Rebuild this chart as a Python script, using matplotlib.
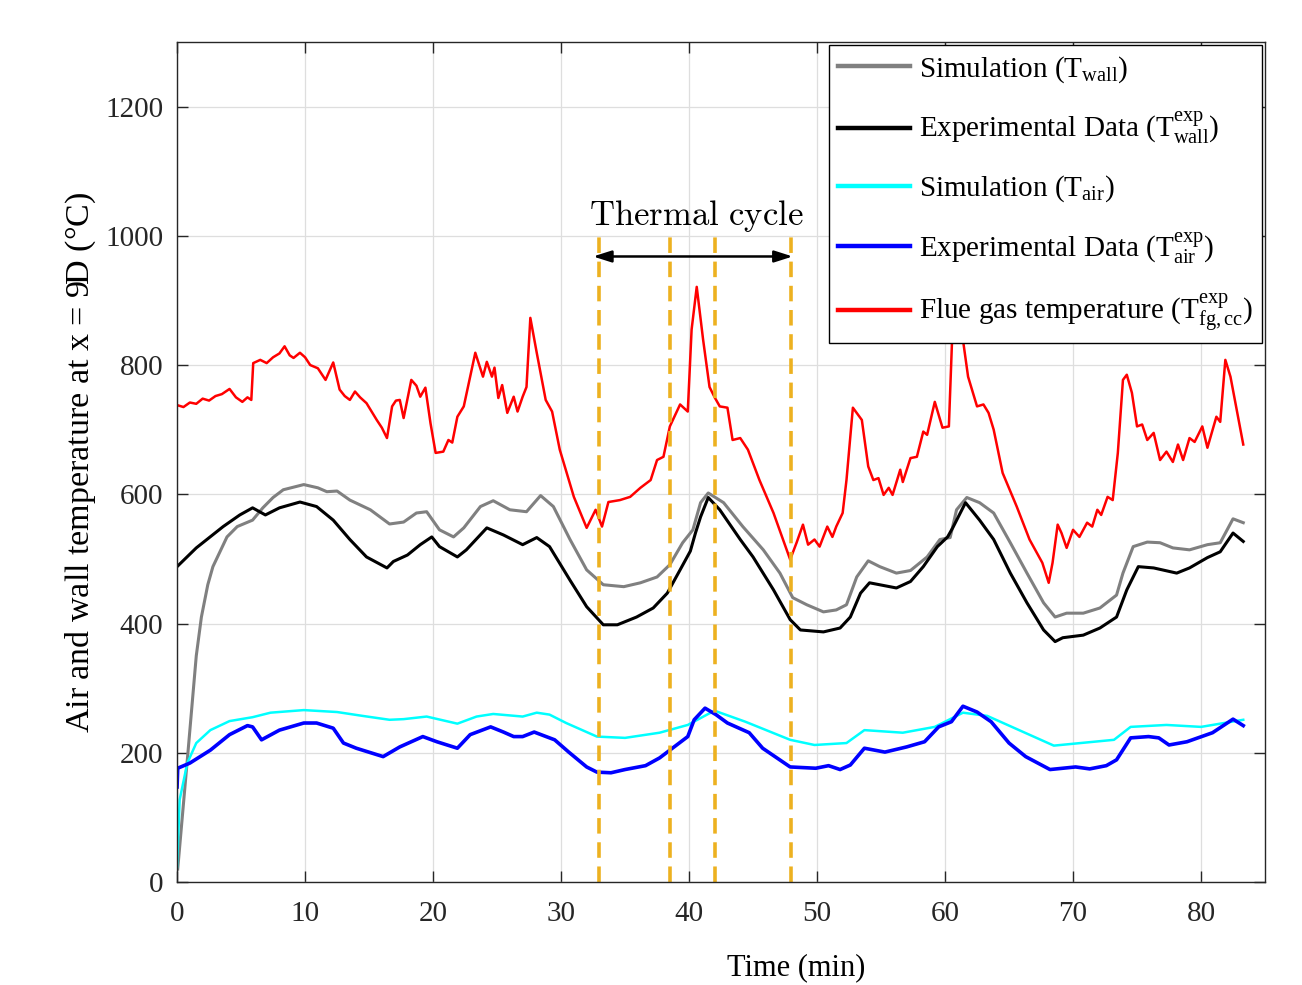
import numpy as np
import matplotlib
matplotlib.use('Agg')
import matplotlib.pyplot as plt

plt.rcParams['font.family'] = ['Liberation Serif', 'DejaVu Serif']
plt.rcParams['mathtext.fontset'] = 'custom'
plt.rcParams['mathtext.rm'] = 'Liberation Serif'
plt.rcParams['mathtext.it'] = 'Liberation Serif:italic'

# --- data ---
t_fg = [0.0, 0.5, 1.0, 1.5, 2.0, 2.5, 3.0, 3.5, 4.1, 4.6, 5.1, 5.5, 5.8, 5.95, 6.5, 7.0, 7.5,
        8.0, 8.4, 8.8, 9.1, 9.6, 10.0, 10.4, 11.0, 11.6, 12.2, 12.7, 13.1, 13.5, 13.9, 14.3,
        14.8, 15.6, 16.0, 16.4, 16.8, 17.1, 17.4, 17.7, 18.3, 18.7, 19.0, 19.4, 19.8, 20.2,
        20.8, 21.2, 21.5, 21.9, 22.4, 23.3, 23.9, 24.2, 24.6, 24.8, 25.1, 25.4, 25.8, 26.3,
        26.6, 27.0, 27.3, 27.6, 28.1, 28.8, 29.3, 29.9, 31.0, 32.0, 32.7, 33.2, 33.7, 34.6,
        35.4, 36.2, 37.0, 37.5, 38.0, 38.5, 39.3, 39.9, 40.2, 40.6, 41.1, 41.6, 42.0, 42.4,
        43.0, 43.4, 44.0, 44.6, 45.5, 46.6, 47.9, 48.4, 48.9, 49.3, 49.8, 50.2, 50.8, 51.2,
        51.5, 52.0, 52.3, 52.8, 53.5, 54.0, 54.4, 54.8, 55.2, 55.6, 55.9, 56.5, 56.7, 57.3,
        57.8, 58.3, 58.6, 59.2, 59.8, 60.3, 60.6, 61.0, 61.4, 61.8, 62.5, 63.0, 63.4, 63.8,
        64.5, 65.6, 66.6, 67.6, 68.1, 68.4, 68.8, 69.1, 69.5, 70.0, 70.5, 71.1, 71.5, 71.9,
        72.2, 72.7, 73.1, 73.5, 73.9, 74.2, 74.6, 75.0, 75.4, 75.8, 76.3, 76.8, 77.3, 77.8,
        78.2, 78.6, 79.1, 79.5, 80.1, 80.5, 81.2, 81.5, 81.9, 82.3, 83.3]
T_fg = [738, 735, 742, 740, 748, 745, 752, 755, 763, 750, 743, 750, 746, 803, 808, 803, 812,
        818, 829, 815, 811, 819, 812, 800, 795, 777, 804, 762, 752, 746, 759, 750,
        741, 715, 703, 687, 736, 745, 746, 718, 777, 768, 751, 765, 710, 664,
        666, 684, 680, 720, 736, 819, 782, 805, 782, 796, 749, 769, 726, 751,
        728, 751, 766, 873, 819, 746, 728, 669, 596, 548, 576, 550, 588, 591,
        596, 610, 622, 653, 658, 705, 739, 728, 855, 921, 839, 766, 750, 736,
        734, 684, 687, 669, 622, 571, 499, 525, 553, 522, 530, 519, 550, 534,
        550, 571, 622, 734, 715, 643, 622, 625, 599, 610, 599, 638, 619, 656,
        658, 697, 692, 743, 703, 705, 866, 950, 839, 782, 736, 739, 726, 700,
        633, 581, 530, 494, 463, 494, 553, 540, 517, 545, 534, 556, 550, 576,
        568, 596, 591, 664, 777, 785, 757, 705, 708, 684, 695, 653, 666, 650,
        677, 653, 687, 681, 705, 672, 720, 712, 808, 782, 677]

t_sw = [0.05, 0.8, 1.5, 1.9, 2.4, 2.8, 3.9, 4.7, 5.9, 6.7, 7.5, 8.3, 9.9, 11.0, 11.7, 12.5,
        13.5, 15.1, 16.6, 17.7, 18.7, 19.5, 20.5, 21.6, 22.4, 23.7, 24.7, 26.0, 27.3, 28.4,
        29.4, 30.7, 32.0, 33.3, 34.9, 36.2, 37.5, 38.5, 39.5, 40.3, 40.9, 41.5, 42.7, 44.2,
        45.8, 47.1, 48.1, 49.2, 50.5, 51.5, 52.3, 53.1, 54.0, 54.9, 56.2, 57.3, 58.6, 59.6,
        60.4, 60.9, 61.7, 62.7, 63.8, 65.1, 66.4, 67.7, 68.6, 69.5, 70.8, 72.1, 73.4, 73.9,
        74.7, 75.8, 76.8, 77.8, 79.1, 80.5, 81.5, 82.5, 83.3]
T_sw = [20, 189, 350, 410, 460, 488, 534, 550, 560, 579, 595, 607, 615, 610, 604, 605,
        591, 576, 554, 557, 571, 573, 545, 534, 548, 581, 590, 576, 573, 598,
        581, 530, 483, 460, 457, 463, 472, 491, 525, 545, 587, 602, 587, 550,
        514, 478, 440, 429, 418, 421, 429, 472, 497, 488, 478, 482, 503, 530,
        533, 576, 595, 587, 571, 525, 478, 432, 410, 416, 416, 424, 444, 478,
        519, 526, 525, 517, 514, 522, 525, 562, 556]

t_ew = [0.0, 1.5, 3.6, 4.9, 5.9, 6.9, 8.0, 9.6, 10.9, 12.2, 13.5, 14.8, 16.4, 16.9, 18.0,
        19.0, 19.9, 20.5, 21.9, 22.6, 24.2, 25.5, 27.0, 28.1, 29.1, 30.7, 32.0, 33.3, 34.4,
        35.9, 37.2, 38.3, 39.3, 40.1, 40.5, 40.9, 41.5, 42.4, 44.0, 45.0, 46.6, 47.9, 48.7,
        50.5, 51.8, 52.6, 53.4, 54.1, 56.2, 57.3, 58.3, 59.4, 60.2, 60.6, 61.6, 62.7, 63.8,
        65.1, 66.4, 67.7, 68.6, 69.2, 70.8, 72.1, 73.4, 74.2, 75.1, 76.3, 78.1, 79.1, 80.5,
        81.5, 82.5, 83.3]
T_ew = [488, 517, 550, 568, 579, 568, 579, 588, 581, 560, 530, 503, 486, 496, 506,
        522, 534, 519, 503, 514, 548, 537, 522, 533, 519, 467, 426, 398, 398,
        410, 424, 447, 483, 512, 540, 565, 595, 576, 530, 503, 452, 406, 390,
        387, 393, 410, 447, 463, 455, 465, 488, 519, 534, 548, 587, 560, 530,
        478, 432, 390, 372, 378, 382, 393, 410, 452, 488, 486, 478, 486, 502,
        511, 540, 527]

t_sa = [0.0, 0.2, 0.8, 1.5, 2.6, 4.1, 5.9, 7.3, 9.9, 12.5, 14.5, 16.6, 17.7, 19.5, 21.9,
        23.4, 24.7, 27.0, 28.1, 29.1, 30.4, 32.8, 35.0, 37.7, 39.9, 41.5, 42.0, 44.4, 47.9,
        49.8, 52.3, 53.7, 56.7, 59.2, 61.4, 63.3, 68.5, 73.2, 74.5, 77.3, 80.0, 83.3]
T_sa = [23, 127, 184, 215, 235, 249, 255, 262, 266, 263, 257, 251, 252, 256, 245,
        256, 260, 256, 262, 259, 246, 225, 223, 231, 243, 260, 265, 248, 220,
        212, 215, 235, 231, 240, 262, 257, 211, 220, 240, 243, 240, 251]

t_ea = [0.0, 0.05, 1.0, 2.6, 4.1, 5.5, 5.9, 6.6, 8.0, 9.9, 10.9, 12.2, 13.0, 14.0, 16.1,
        17.4, 19.2, 20.3, 21.9, 22.9, 24.5, 25.5, 26.3, 27.0, 27.9, 29.5, 30.6, 32.0, 32.8,
        33.9, 35.0, 36.6, 37.7, 38.5, 39.9, 40.4, 41.25, 42.1, 43.0, 44.7, 45.75, 47.9, 49.9,
        50.9, 51.8, 52.6, 53.7, 55.3, 57.0, 58.4, 59.5, 60.5, 61.4, 62.5, 63.6, 65.0, 66.3,
        68.2, 70.2, 71.3, 72.6, 73.4, 74.5, 75.9, 76.7, 77.5, 78.9, 80.9, 82.5, 83.3]
T_ea = [147, 176, 184, 204, 228, 242, 240, 220, 235, 246, 246, 238, 215, 207, 194,
        209, 225, 217, 207, 228, 240, 232, 225, 225, 232, 220, 201, 178, 170,
        169, 174, 180, 192, 204, 225, 251, 269, 259, 246, 231, 207, 178, 176,
        180, 174, 181, 207, 201, 209, 217, 240, 248, 272, 263, 248, 215, 194,
        174, 178, 175, 180, 189, 223, 225, 223, 212, 217, 231, 252, 242]

cycle_marks = [33.0, 38.5, 42.0, 48.0]

fig = plt.figure(figsize=(13.02, 9.85), dpi=100)
ax = fig.add_axes([0.136, 0.1046, 0.8356, 0.8528])

h1, = ax.plot(t_sw, T_sw, color='#808080', lw=2.2, label=r'Simulation (T$_{\rm wall}$)')
h2, = ax.plot(t_ew, T_ew, color='black', lw=2.2,
              label=r'Experimental Data (T$^{\rm exp}_{\rm wall}$)')
h3, = ax.plot(t_sa, T_sa, color='#00FFFF', lw=1.8, label=r'Simulation (T$_{\rm air}$)')
h4, = ax.plot(t_ea, T_ea, color='#0000FF', lw=2.6,
              label=r'Experimental Data (T$^{\rm exp}_{\rm air}$)')
h5, = ax.plot(t_fg, T_fg, color='#FF0000', lw=1.8,
              label=r'Flue gas temperature (T$^{\rm exp}_{\rm fg,cc}$)')

# thermal cycle markers
for tc in cycle_marks:
    ax.plot([tc, tc], [0, 1000], color='#EDB120', lw=2.6, linestyle=(0, (4.3, 2.4)))

ax.annotate('', xy=(32.5, 968), xytext=(48.1, 968),
            arrowprops=dict(arrowstyle='<|-|>,head_length=1.1,head_width=0.35',
                            color='black', lw=1.8, shrinkA=0, shrinkB=0))
ax.text(40.6, 1003, r'$\mathrm{Thermal\ cycle}$', math_fontfamily='cm',
        fontsize=25, ha='center', va='bottom')

ax.set_xlim(0, 85)
ax.set_ylim(0, 1300)
ax.set_xticks(np.arange(0, 81, 10))
ax.set_yticks(np.arange(0, 1201, 200))
ax.grid(True, color='#dedede', lw=0.9)
ax.set_axisbelow(True)
ax.tick_params(direction='in', length=8, width=1, top=True, right=True,
               labelsize=21, colors='#262626')
ax.tick_params(axis='x', pad=14)
ax.tick_params(axis='y', pad=10)
for tl in ax.get_xticklabels() + ax.get_yticklabels():
    tl.set_color('#262626')
for sp in ax.spines.values():
    sp.set_color('#262626')
    sp.set_linewidth(1.0)

ax.set_xlabel('Time (min)', fontsize=22)
ax.xaxis.set_label_coords(0.569, -0.085)
ax.set_ylabel(r'Air and wall temperature at x = 9D ($\degree$C)', fontsize=24.5, labelpad=5)

leg = ax.legend(handles=[h1, h2, h3, h4, h5], loc='upper right', fontsize=21,
                fancybox=False, framealpha=1, edgecolor='black', borderaxespad=0.12,
                handlelength=2.5, labelspacing=0.9, handletextpad=0.3,
                borderpad=0.3)
leg.get_frame().set_linewidth(1.0)
for ln in leg.get_lines():
    ln.set_linewidth(3.2)

fig.savefig('out.png', dpi=100)
